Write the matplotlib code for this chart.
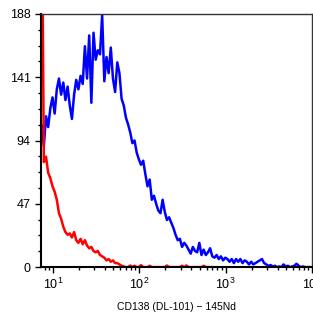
import numpy as np
import matplotlib
matplotlib.use("Agg")
import matplotlib.pyplot as plt
from matplotlib.ticker import FixedLocator, AutoMinorLocator, LogLocator, NullFormatter

plt.rcParams['font.family'] = ['Liberation Sans', 'DejaVu Sans']

# histogram channels: log10 bin centres, 0.025 decade apart
log_start, log_step = 0.87, 0.025

# event counts per channel
blue_counts = [
    105, 90, 112, 104, 118, 126, 114, 132, 140, 128,
    137, 124, 134, 120, 110, 128, 139, 132, 142, 136,
    164, 140, 172, 122, 174, 154, 161, 158, 187, 138,
    156, 144, 163, 140, 130, 152, 144, 125, 120, 111,
    106, 100, 92, 94, 85, 80, 76, 79, 69, 60,
    65, 50, 53, 47, 42, 40, 50, 41, 35, 37,
    33, 29, 24, 20, 21, 15, 18, 16, 13, 10,
    15, 12, 11, 18, 9, 13, 9, 11, 14, 8,
    7, 9, 6, 8, 5, 7, 6, 4, 6, 3,
    6, 4, 6, 3, 5, 4, 2, 4, 2, 3,
    4, 5, 6, 3, 2, 1, 1.5, 0.5, 1, 0,
    0.5, 0, 2, 0.5, 1, 0, 0.5, 1, 2.5, 1,
    0, 0.5, 0, 0, 0,
]
red_counts = [
    300, 78, 82, 70, 66, 60, 56, 50, 40, 36,
    30, 26, 24, 25, 22, 26, 20, 18, 21, 17,
    20, 16, 14, 15, 12, 11, 12, 9, 8, 7,
    5, 6, 4, 5, 3, 3, 2, 1, 0.5, 0,
    0, 1.2, 0, 1, 0, 0, 1.5, 0, 0, 0,
    1, 0, 0, 0, 0, 0, 0, 0, 1.2, 0,
    0, 0, 0, 0, 0, 1, 0, 1.2, 0, 0,
    0, 0, 0, 0, 0, 1, 0, 0, 0, 0,
]

y_ticks = [0, 47, 94, 141, 188]
x_label = "CD138 (DL-101) \u2212 145Nd"

x_blue = 10 ** (log_start + log_step * np.arange(len(blue_counts)))
x_red = 10 ** (log_start + log_step * np.arange(len(red_counts)))

fig = plt.figure(figsize=(3.13, 3.23), dpi=100)
ax = fig.add_axes([0.131, 0.173, 0.866, 0.784])

ax.plot(x_blue, blue_counts, color="#0000ff", lw=1.8)
ax.plot(x_red, red_counts, color="#ff0000", lw=1.8)

ax.set_xscale("log")
ax.set_xlim(10 ** 0.862, 10 ** 4)
ax.set_ylim(0, 188)
ax.yaxis.set_major_locator(FixedLocator(y_ticks))
ax.yaxis.set_minor_locator(AutoMinorLocator(4))
ax.xaxis.set_major_locator(LogLocator(base=10, numticks=10))
ax.xaxis.set_minor_locator(LogLocator(base=10, subs=np.arange(2, 10), numticks=10))
ax.xaxis.set_minor_formatter(NullFormatter())

ax.tick_params(which="both", direction="out", top=False, right=False,
               labelsize=9, colors="black", width=1)
ax.tick_params(which="major", length=4)
ax.tick_params(which="minor", length=2.5)
ax.tick_params(axis="x", which="major", pad=3)

for side in ["left", "bottom"]:
    ax.spines[side].set_linewidth(1.5)
for side in ["top", "right"]:
    ax.spines[side].set_linewidth(1.0)
    ax.spines[side].set_color("#333333")

ax.set_xlabel(x_label, fontsize=7.5, labelpad=7)

fig.savefig("out.png", dpi=100)
